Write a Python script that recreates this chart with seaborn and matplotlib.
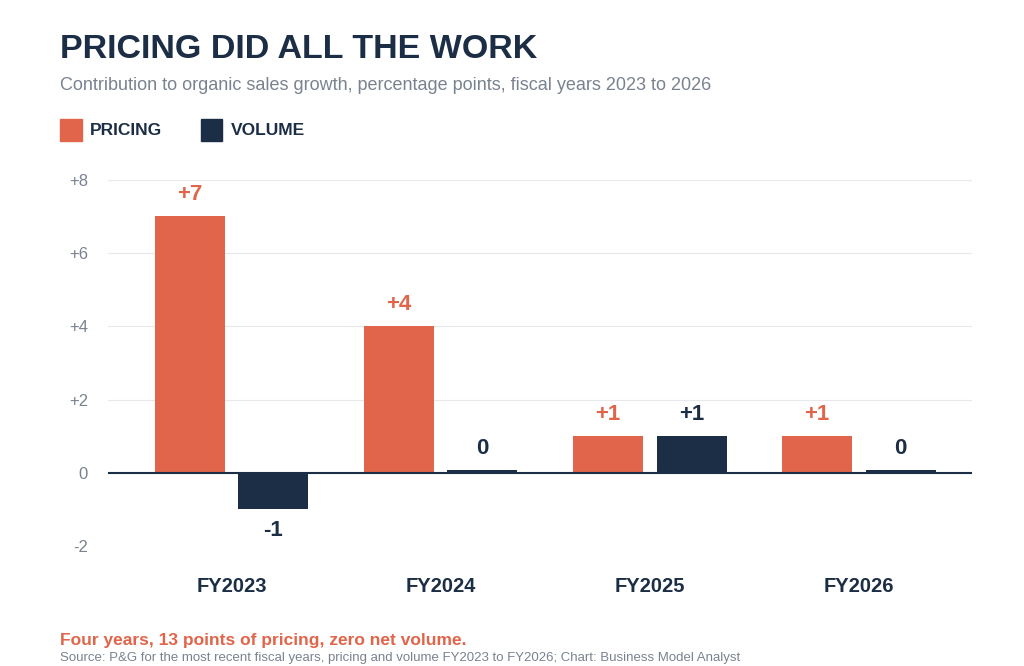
import matplotlib
matplotlib.use("Agg")
import matplotlib.pyplot as plt
import seaborn as sns
import pandas as pd
from matplotlib.patches import Rectangle

years = ["FY2023", "FY2024", "FY2025", "FY2026"]
pricing = [7, 4, 1, 1]
volume = [-1, 0, 1, 0]
series = ["PRICING", "VOLUME"]
colors = {"PRICING": "#E0654A", "VOLUME": "#1C2E45"}

rows = []
for i, y in enumerate(years):
    for s, vals in zip(series, [pricing, volume]):
        v = vals[i]
        rows.append({"year": y, "series": s, "value": v,
                     "shown": v if v != 0 else 0.08})
df = pd.DataFrame(rows)

sns.set_theme(style="white")
plt.rcParams['font.family'] = ['Liberation Sans', 'DejaVu Sans']
fig = plt.figure(figsize=(10.24, 6.66), dpi=100)
ax = fig.add_axes([0.105, 0.180, 0.844, 0.550])
sns.barplot(data=df, x="year", y="shown", hue="series", palette=colors,
            width=0.80, ax=ax, legend=False, saturation=1)
for p in ax.patches:
    c = p.get_x() + p.get_width() / 2
    p.set_x(c - 0.335 / 2)
    p.set_width(0.335)
    p.set_edgecolor("none")

for i in range(len(years)):
    for j, (s, vals) in enumerate(zip(series, [pricing, volume])):
        v = vals[i]
        x = i + (-0.20 if j == 0 else 0.20)
        txt = f"+{v}" if v > 0 else str(v)
        if v < 0:
            ax.text(x, v - 0.3, txt, ha="center", va="top", fontsize=16,
                    fontweight="bold", color=colors[s])
        else:
            ax.text(x, max(v, 0.08) + 0.3, txt, ha="center", va="bottom", fontsize=16,
                    fontweight="bold", color=colors[s])

ax.set_ylim(-2, 8)
ax.set_xlim(-0.593, 3.54)
ax.set_yticks([-2, 0, 2, 4, 6, 8])
ax.set_yticklabels(["-2", "0", "+2", "+4", "+6", "+8"], fontsize=12, color="#7A8290")
ax.yaxis.grid(True, color="#E6E8EB", linewidth=0.8)
ax.set_axisbelow(True)
ax.axhline(0, color="#1C2E45", linewidth=1.5)
for sp in ax.spines.values():
    sp.set_visible(False)
ax.tick_params(axis="y", length=0, pad=14)
ax.tick_params(axis="x", length=0, pad=22)
ax.set_xticks(range(len(years)))
ax.set_xticklabels(years, fontsize=14.5, fontweight="bold", color="#1C2E45")
ax.set_xlabel("")
ax.set_ylabel("")

fig.text(0.059, 0.925, "PRICING DID ALL THE WORK", fontsize=24.5, fontweight="bold",
         color="#1C2E45", va="center")
fig.text(0.059, 0.871, "Contribution to organic sales growth, percentage points, fiscal years 2023 to 2026",
         fontsize=13, color="#7A8290", va="center")
for k, (s, xx) in enumerate(zip(series, [0.059, 0.196])):
    fig.patches.append(Rectangle((xx, 0.788), 0.021, 0.033, transform=fig.transFigure,
                                 color=colors[s]))
    fig.text(xx + 0.029, 0.804, s, fontsize=12.5, fontweight="bold", color="#1C2E45", va="center")
fig.text(0.059, 0.038, "Four years, 13 points of pricing, zero net volume.", fontsize=12.5,
         fontweight="bold", color="#E0654A", va="center")
fig.text(0.059, 0.003, "Source: P&G for the most recent fiscal years, pricing and volume FY2023 to FY2026; Chart: Business Model Analyst",
         fontsize=9.5, color="#7A8290", va="bottom")
fig.savefig("out.png", dpi=100)
